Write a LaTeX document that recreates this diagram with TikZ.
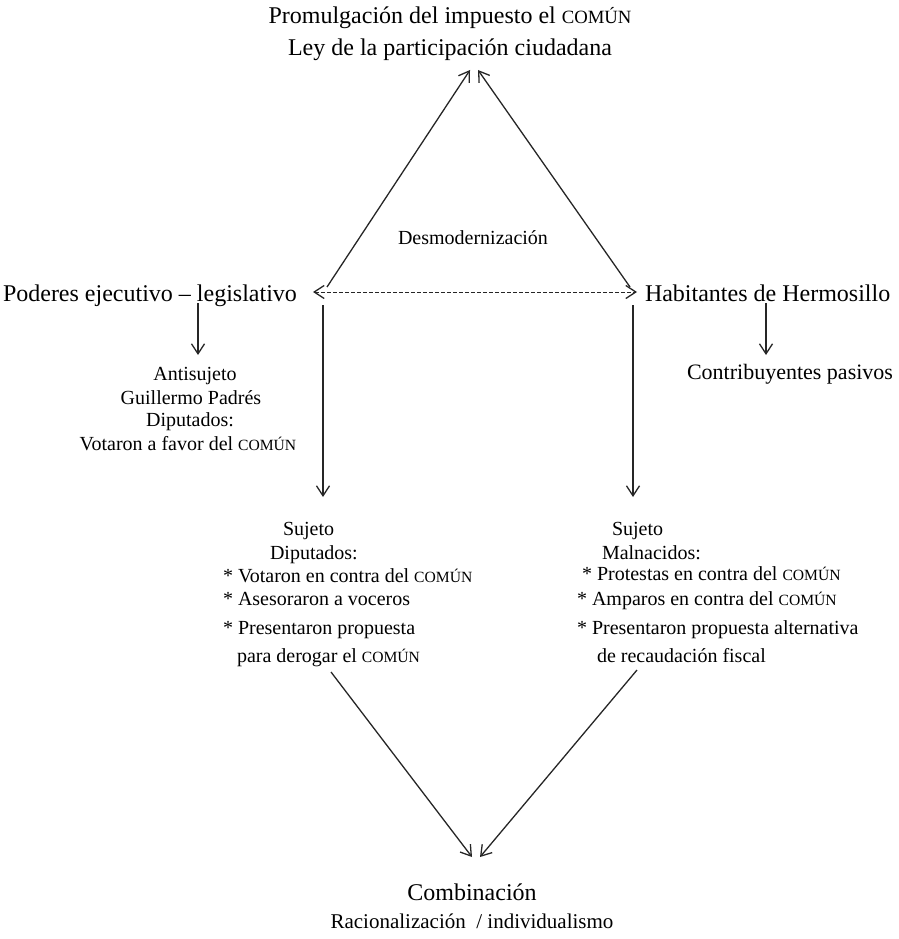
\documentclass[tikz,border=0pt]{standalone}
\usepackage{fontspec}
\setmainfont{Liberation Serif}
\usepackage{graphicx}
\usetikzlibrary{arrows.meta}
\newcommand\comun{\scalebox{0.78}{COMÚN}}
\tikzset{
  lbl/.style={inner sep=0pt, outer sep=0pt, text=black},
  big/.style={lbl, font=\fontsize{24}{28}\selectfont},
  mid/.style={lbl, font=\fontsize{22}{26}\selectfont},
  small/.style={lbl, font=\fontsize{20}{24}\selectfont},
  tipb/.tip={Straight Barb[length=10pt,width=13pt,line width=1.3pt]},
  conn/.style={draw=black!85, line width=1.3pt, -tipb},
  dconn/.style={draw=black!85, line width=1pt, dash pattern=on 4pt off 2pt, tipb-tipb}
}
\begin{document}
\begin{tikzpicture}[x=1pt,y=-1pt]
\useasboundingbox (0,0) rectangle (898,939);
% texts
\node[big, anchor=base] (t1) at (450,24) {Promulgación del impuesto el \comun};
\node[big, anchor=base] (t2) at (450,56) {Ley de la participación ciudadana};
\node[small, anchor=base] (desm) at (473,244) {Desmodernización};
\node[big, anchor=base west] (pod) at (3,301) {Poderes ejecutivo – legislativo};
\node[big, anchor=base west] (hab) at (645,301) {Habitantes de Hermosillo};
\node[small, anchor=base] (anti1) at (195,380) {Antisujeto};
\node[small, anchor=base] (anti2) at (191,404) {Guillermo Padrés};
\node[small, anchor=base] (anti3) at (190,426) {Diputados:};
\node[small, anchor=base] (anti4) at (188,450) {Votaron a favor del \comun};
\node[mid, anchor=base] (contr) at (790,379) {Contribuyentes pasivos};
% left subject block
\node[small, anchor=base west] (ls1) at (283,535) {Sujeto};
\node[small, anchor=base west] (ls2) at (270,559) {Diputados:};
\node[small, anchor=base west] (ls3) at (223,582) {* Votaron en contra del \comun};
\node[small, anchor=base west] (ls4) at (223,605) {* Asesoraron a voceros};
\node[small, anchor=base west] (ls5) at (223,634) {* Presentaron propuesta};
\node[small, anchor=base west] (ls6) at (237,662) {para derogar el \comun};
% right subject block
\node[small, anchor=base west] (rs1) at (612,535) {Sujeto};
\node[small, anchor=base west] (rs2) at (602,559) {Malnacidos:};
\node[small, anchor=base west] (rs3) at (582,580) {* Protestas en contra del \comun};
\node[small, anchor=base west] (rs4) at (577,605) {* Amparos en contra del \comun};
\node[small, anchor=base west] (rs5) at (577,634) {* Presentaron propuesta alternativa};
\node[small, anchor=base west] (rs6) at (597,662) {de recaudación fiscal};
% bottom
\node[big, anchor=base] (comb) at (472,900) {Combinación};
\node[small, anchor=base, font=\fontsize{21}{24}\selectfont] (rac) at (472,928) {Racionalización \ / individualismo};
% coordinates
\coordinate (tl0) at (327,287); \coordinate (tl1) at (470,70);
\coordinate (tr0) at (630,287); \coordinate (tr1) at (478,70);
\coordinate (dl) at (313,292); \coordinate (dr) at (637,292);
\coordinate (sl0) at (198,303); \coordinate (sl1) at (198,355);
\coordinate (sr0) at (766,303); \coordinate (sr1) at (766,355);
\coordinate (vl0) at (323,305); \coordinate (vl1) at (323,497);
\coordinate (vr0) at (633,305); \coordinate (vr1) at (633,497);
\coordinate (bl0) at (331,672); \coordinate (bl1) at (472,857);
\coordinate (br0) at (637,670); \coordinate (br1) at (480,857);
% connectors
\draw[conn] (tl0) -- (tl1);
\draw[conn] (tr0) -- (tr1);
\draw[dconn] (dl) -- (dr);
\draw[conn] (sl0) -- (sl1);
\draw[conn] (sr0) -- (sr1);
\draw[conn] (vl0) -- (vl1);
\draw[conn] (vr0) -- (vr1);
\draw[conn] (bl0) -- (bl1);
\draw[conn] (br0) -- (br1);
\end{tikzpicture}
\end{document}
